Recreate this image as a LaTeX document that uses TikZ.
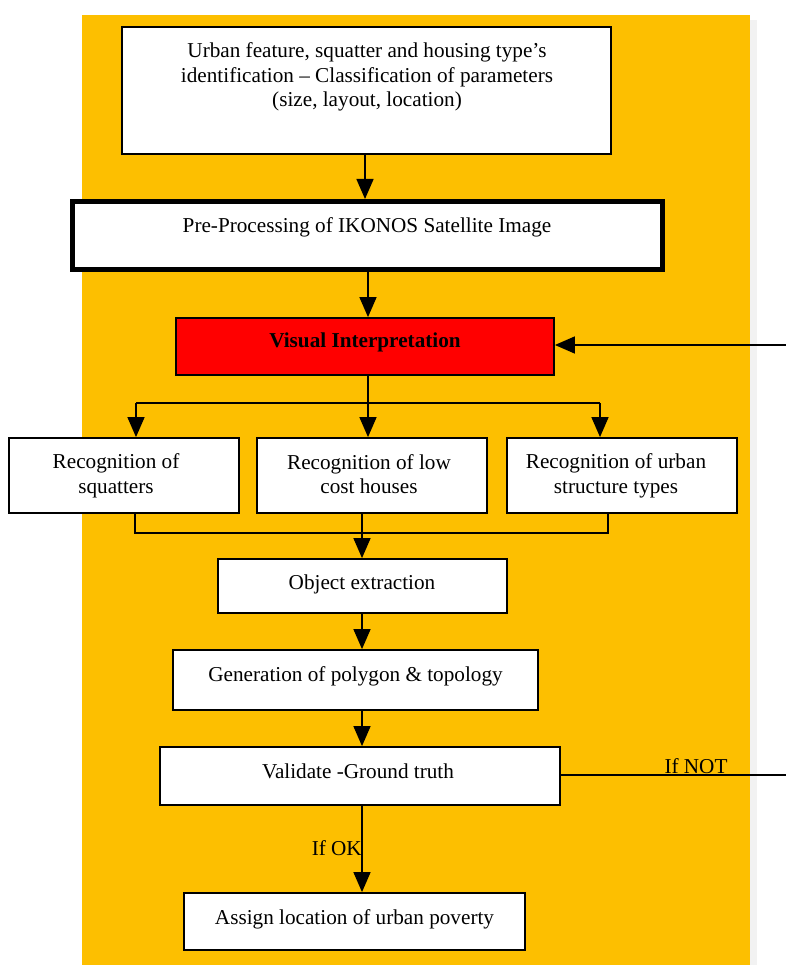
\documentclass[tikz,border=0pt]{standalone}
\usepackage{fontspec}
\setmainfont{Liberation Serif}
\usetikzlibrary{arrows.meta}
\definecolor{bgorange}{RGB}{253,191,0}
\definecolor{boxred}{RGB}{255,0,0}
\begin{document}
\begin{tikzpicture}[x=1pt,y=-1pt,
 box/.style={draw=black, line width=1.8pt, fill=white, inner sep=0pt},
 txt/.style={font=\fontsize{21.2}{24.5}\selectfont, align=center, inner sep=0pt},
 arr/.style={-{Triangle[width=17pt,length=20pt]}, line width=1.5pt},
 ln/.style={line width=1.5pt}]
\useasboundingbox (0,0) rectangle (785,965);
\fill[black!5] (750,20) rectangle (757,965);
\fill[bgorange] (82,15) rectangle (750,965);

% boxes
\node[box, minimum width=489pt, minimum height=127pt] (top) at (366.5,90.5) {};
\node[box, line width=5pt, minimum width=590pt, minimum height=68pt] (pre) at (367.5,235.5) {};
\node[box, fill=boxred, minimum width=378pt, minimum height=57pt] (vis) at (365,346.5) {};
\node[box, minimum width=230pt, minimum height=75pt] (left) at (124,475.5) {};
\node[box, minimum width=230pt, minimum height=75pt] (mid) at (372,475.5) {};
\node[box, minimum width=230pt, minimum height=75pt] (right) at (622,475.5) {};
\node[box, minimum width=289pt, minimum height=54pt] (obj) at (362.5,586) {};
\node[box, minimum width=365pt, minimum height=60pt] (gen) at (355.5,680) {};
\node[box, minimum width=400pt, minimum height=58pt] (val) at (360,776) {};
\node[box, minimum width=341pt, minimum height=57pt] (asg) at (354.5,921.5) {};

% texts
\node[txt] (ttop) at (367,77) {Urban feature, squatter and housing type’s\\identification – Classification of parameters\\(size, layout, location)};
\node[txt] (tpre) at (367,227) {Pre-Processing of IKONOS Satellite Image};
\node[txt, font=\fontsize{21.2}{24.5}\selectfont\bfseries] (tvis) at (365,342) {Visual Interpretation};
\node[txt] (tleft) at (116,476) {Recognition of\\squatters};
\node[txt] (tmid) at (369,474) {Recognition of low\\cost houses};
\node[txt] (tright) at (616,476) {Recognition of urban\\structure types};
\node[txt] (tobj) at (362,584) {Object extraction};
\node[txt] (tgen) at (355.5,676) {Generation of polygon \& topology};
\node[txt] (tval) at (358,771) {Validate -Ground truth};
\node[txt] (tasg) at (354.5,919) {Assign location of urban poverty};

% connectors
\draw[arr] (top.south -| 365,0) -- (pre.north -| 365,0);
\draw[arr] (pre.south -| 368,0) -- (vis.north -| 368,0);

\coordinate (bl) at (136,403);
\coordinate (br) at (600,403);
\coordinate (bm) at (368,403);
\draw[ln] (vis.south -| bm) -- (bm);
\draw[ln] (bl) -- (br);
\draw[arr] (bl) -- (bl |- left.north);
\draw[arr] (bm) -- (bm |- mid.north);
\draw[arr] (br) -- (br |- right.north);

\coordinate (ml) at (135,533);
\coordinate (mr) at (608,533);
\coordinate (mm) at (362,533);
\draw[ln] (ml |- left.south) -- (ml) -- (mr) -- (mr |- right.south);
\draw[arr] (mm |- mid.south) -- (mm |- obj.north);

\draw[arr] (obj.south -| mm) -- (gen.north -| mm);
\draw[arr] (gen.south -| mm) -- (val.north -| mm);
\draw[arr] (val.south -| mm) -- (asg.north -| mm);
\node[txt, anchor=east] (ok) at (362,848) {If OK};

\coordinate (e1) at (786,775);
\draw[ln] (val.east |- e1) -- (e1);
\node[txt] (not) at (696,766) {If NOT};

\coordinate (e2) at (786,345);
\draw[arr] (e2) -- (e2 -| vis.east);
\end{tikzpicture}
\end{document}
